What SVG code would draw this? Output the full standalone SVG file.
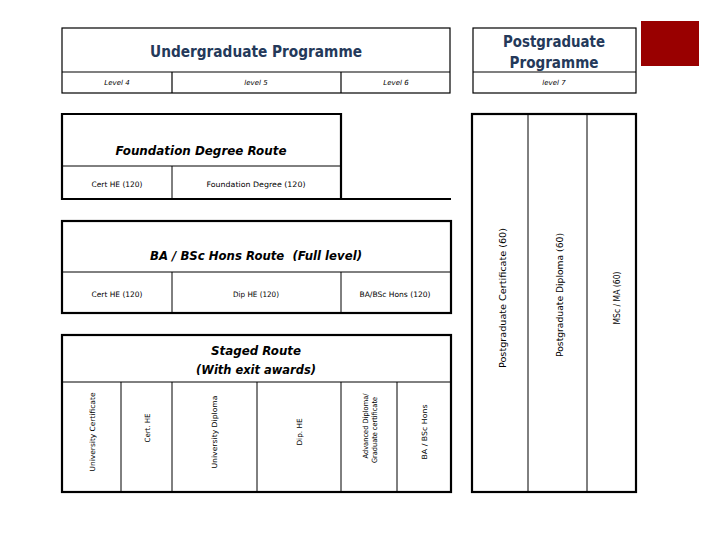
<svg xmlns="http://www.w3.org/2000/svg" width="720" height="540" viewBox="0 0 720 540">
<style>
.thick{fill:none;stroke:#000;stroke-width:2.2}
.thin{fill:none;stroke:#000;stroke-width:1}
.hdr{fill:none;stroke:#000;stroke-width:1.2}
text{font-family:"DejaVu Sans","Liberation Sans",sans-serif;fill:#000}
.title{font-size:15.5px;font-weight:bold;fill:#24395a;text-anchor:middle}
.lvl{font-size:7px;font-style:italic;text-anchor:middle}
.route{font-size:12.5px;font-style:italic;font-weight:bold;text-anchor:middle}
.cell{font-size:7.5px;text-anchor:middle}
.vt{font-size:7.2px;text-anchor:middle}
.pg{font-size:8.8px;text-anchor:middle}
</style>
<rect width="720" height="540" fill="#fff"/>
<g id="undergraduate-header">
<rect class="hdr" x="62" y="28" width="388" height="65"/>
<line class="hdr" x1="62" y1="72" x2="450" y2="72"/>
<line class="hdr" x1="172" y1="72" x2="172" y2="93"/>
<line class="hdr" x1="341" y1="72" x2="341" y2="93"/>
<text class="title" x="256" y="57" textLength="212" lengthAdjust="spacingAndGlyphs">Undergraduate Programme</text>
<text class="lvl" x="117" y="85">Level 4</text>
<text class="lvl" x="256" y="85">level 5</text>
<text class="lvl" x="396" y="85">Level 6</text>
</g>
<g id="postgraduate-header">
<rect class="hdr" x="473" y="28" width="163" height="65"/>
<line class="hdr" x1="473" y1="72" x2="636" y2="72"/>
<text class="title" x="554" y="47" textLength="102" lengthAdjust="spacingAndGlyphs">Postgraduate</text>
<text class="title" x="554" y="68" textLength="89" lengthAdjust="spacingAndGlyphs">Programme</text>
<text class="lvl" x="554" y="85">level 7</text>
</g>
<g id="red-square">
<rect x="641" y="21" width="58" height="45" fill="#990000"/>
</g>
<g id="foundation-route">
<path class="thick" d="M451,199 H62 V114 H341 V199"/>
<line class="thin" x1="62" y1="166" x2="341" y2="166"/>
<line class="thin" x1="172" y1="166" x2="172" y2="199"/>
<text class="route" x="201" y="155" textLength="171" lengthAdjust="spacingAndGlyphs">Foundation Degree Route</text>
<text class="cell" x="117" y="187" textLength="51" lengthAdjust="spacingAndGlyphs">Cert HE (120)</text>
<text class="cell" x="256" y="187" textLength="99" lengthAdjust="spacingAndGlyphs">Foundation Degree (120)</text>
</g>
<g id="ba-route">
<rect class="thick" x="62" y="221" width="389" height="92"/>
<line class="thin" x1="62" y1="272" x2="451" y2="272"/>
<line class="thin" x1="172" y1="272" x2="172" y2="313"/>
<line class="thin" x1="341" y1="272" x2="341" y2="313"/>
<text class="route" x="256" y="260" textLength="212" lengthAdjust="spacingAndGlyphs" xml:space="preserve">BA / BSc Hons Route  (Full level)</text>
<text class="cell" x="117" y="297" textLength="51" lengthAdjust="spacingAndGlyphs">Cert HE (120)</text>
<text class="cell" x="256" y="297" textLength="46" lengthAdjust="spacingAndGlyphs">Dip HE (120)</text>
<text class="cell" x="395" y="297" textLength="71" lengthAdjust="spacingAndGlyphs">BA/BSc Hons (120)</text>
</g>
<g id="staged-route">
<rect class="thick" x="62" y="335" width="389" height="157"/>
<line class="thin" x1="62" y1="382" x2="451" y2="382"/>
<line class="thin" x1="121" y1="382" x2="121" y2="492"/>
<line class="thin" x1="172" y1="382" x2="172" y2="492"/>
<line class="thin" x1="257" y1="382" x2="257" y2="492"/>
<line class="thin" x1="341" y1="382" x2="341" y2="492"/>
<line class="thin" x1="397" y1="382" x2="397" y2="492"/>
<text class="route" x="256" y="355" textLength="90" lengthAdjust="spacingAndGlyphs">Staged Route</text>
<text class="route" x="256" y="374" textLength="120" lengthAdjust="spacingAndGlyphs">(With exit awards)</text>
<text class="vt" transform="translate(92,432) rotate(-90)" dy="0.35em" textLength="79" lengthAdjust="spacingAndGlyphs">University Certificate</text>
<text class="vt" transform="translate(147,428) rotate(-90)" dy="0.35em" textLength="29" lengthAdjust="spacingAndGlyphs">Cert. HE</text>
<text class="vt" transform="translate(214,432) rotate(-90)" dy="0.35em" textLength="73" lengthAdjust="spacingAndGlyphs">University Diploma</text>
<text class="vt" transform="translate(299,432) rotate(-90)" dy="0.35em" textLength="27" lengthAdjust="spacingAndGlyphs">Dip. HE</text>
<text class="vt" transform="translate(365,426) rotate(-90)" dy="0.35em" textLength="65" lengthAdjust="spacingAndGlyphs">Advanced Diploma/</text>
<text class="vt" transform="translate(374,430) rotate(-90)" dy="0.35em" textLength="66" lengthAdjust="spacingAndGlyphs">Graduate certificate</text>
<text class="vt" transform="translate(424,432) rotate(-90)" dy="0.35em" textLength="55" lengthAdjust="spacingAndGlyphs">BA / BSc Hons</text>
</g>
<g id="postgraduate-columns">
<rect class="thick" x="472" y="114" width="164" height="378"/>
<line class="thin" x1="528" y1="114" x2="528" y2="492"/>
<line class="thin" x1="587" y1="114" x2="587" y2="492"/>
<text class="pg" transform="translate(503,298) rotate(-90)" dy="0.35em" textLength="140" lengthAdjust="spacingAndGlyphs">Postgraduate Certificate (60)</text>
<text class="pg" transform="translate(560,295) rotate(-90)" dy="0.35em" textLength="124" lengthAdjust="spacingAndGlyphs">Postgraduate Diploma (60)</text>
<text class="pg" transform="translate(617,298) rotate(-90)" dy="0.35em" textLength="53" lengthAdjust="spacingAndGlyphs">MSc / MA (60)</text>
</g>
<g id="connectors"></g>
</svg>
